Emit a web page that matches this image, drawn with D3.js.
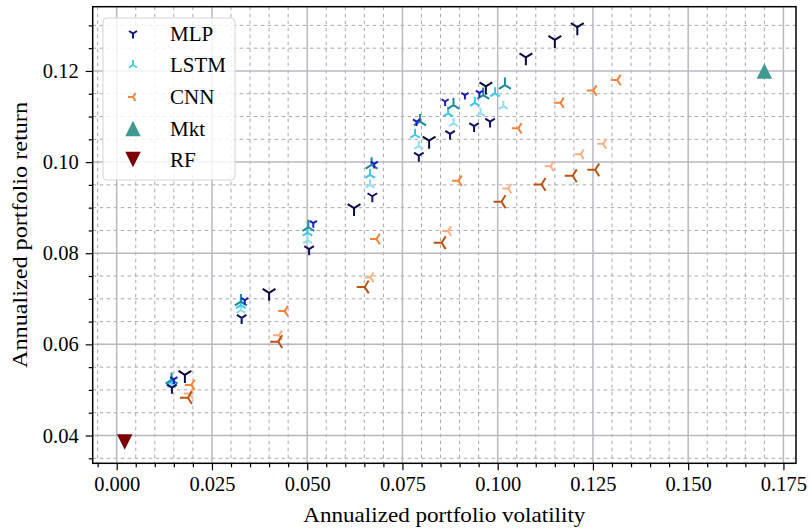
<!DOCTYPE html>
<html>
<head>
<meta charset="utf-8">
<script src="https://cdn.jsdelivr.net/npm/d3@7"></script>
<style>
  html, body { margin: 0; padding: 0; background: #fff; }
  svg { display: block; }
  text { font-family: "Liberation Serif", "DejaVu Serif", serif; fill: #000; }
</style>
</head>
<body>
<svg id="chart" width="810" height="531"></svg>
<script>
// ---------------- data ----------------
const xTicks = [0, 0.025, 0.05, 0.075, 0.1, 0.125, 0.15, 0.175];
const yTicks = [0.04, 0.06, 0.08, 0.10, 0.12];
const xTickLabels = ["0.000", "0.025", "0.050", "0.075", "0.100", "0.125", "0.150", "0.175"];
const yTickLabels = ["0.04", "0.06", "0.08", "0.10", "0.12"];
const legendLabels = ["MLP", "LSTM", "CNN", "Mkt", "RF"];

// [volatility, return]
const mlpDark = [[0.0179,0.0533],[0.0400,0.0713],[0.0623,0.0899],[0.0820,0.1047],[0.0969,0.1166],[0.1074,0.1230],[0.1150,0.1268],[0.1209,0.1296]];
const mlpNavy = [[0.0145,0.0505],[0.0328,0.0658],[0.0505,0.0809],[0.0671,0.0925],[0.0793,0.1014],[0.0875,0.1062],[0.0938,0.1079],[0.0980,0.1089]];
const mlpBlue = [[0.0150,0.0523],[0.0336,0.0697],[0.0516,0.0866],[0.0676,0.0996],[0.0787,0.1089],[0.0862,0.1133],[0.0914,0.1147],[0.0952,0.1152]];

const lstmTeal  = [[0.0144,0.0522],[0.0326,0.0694],[0.0503,0.0857],[0.0669,0.0994],[0.0796,0.1089],[0.0884,0.1125],[0.0962,0.1147],[0.1019,0.1169]];
const lstmCyan  = [[0.0143,0.0517],[0.0326,0.0686],[0.0501,0.0845],[0.0665,0.0972],[0.0783,0.1060],[0.0870,0.1107],[0.0940,0.1130],[0.0993,0.1151]];
const lstmLight = [[0.0144,0.0511],[0.0326,0.0675],[0.0501,0.0828],[0.0665,0.0950],[0.0793,0.1035],[0.0884,0.1085],[0.0955,0.1107],[0.1015,0.1123]];

const cnnOrange = [[0.0196,0.0511],[0.0441,0.0673],[0.0682,0.0831],[0.0897,0.0959],[0.1054,0.1074],[0.1165,0.1130],[0.1251,0.1157],[0.1314,0.1180]];
const cnnLight  = [[0.0192,0.0492],[0.0426,0.0620],[0.0666,0.0747],[0.0870,0.0849],[0.1028,0.0942],[0.1139,0.0991],[0.1218,0.1017],[0.1277,0.1040]];
const cnnDark   = [[0.0187,0.0483],[0.0424,0.0606],[0.0651,0.0726],[0.0853,0.0823],[0.1010,0.0913],[0.1115,0.0951],[0.1197,0.0970],[0.1256,0.0983]];

const mkt = [[0.1700, 0.1200]];
const rf  = [[0.0021, 0.0386]];

// ---------------- layout ----------------
const svg = d3.select("#chart");
const L = 92.7, R = 796, T = 6.7, B = 463.3;
const x = d3.scaleLinear().domain([-0.0063, 0.1783]).range([L, R]);
const y = d3.scaleLinear().domain([0.0339, 0.1341]).range([B, T]);

const xMinor = d3.range(-0.005, 0.1781, 0.005).map(v => +v.toFixed(4));
const yMinor = d3.range(0.035, 0.1341, 0.005).map(v => +v.toFixed(4));
const isMajor = (v, arr) => arr.some(t => Math.abs(t - v) < 1e-6);

// grid
const grid = svg.append("g");
xMinor.filter(v => !isMajor(v, xTicks)).forEach(v => {
  grid.append("line").attr("x1", x(v)).attr("x2", x(v)).attr("y1", T).attr("y2", B)
    .attr("stroke", "#a8a8a8").attr("stroke-width", 1).attr("stroke-dasharray", "3.5,3.5");
});
yMinor.filter(v => !isMajor(v, yTicks)).forEach(v => {
  grid.append("line").attr("y1", y(v)).attr("y2", y(v)).attr("x1", L).attr("x2", R)
    .attr("stroke", "#a8a8a8").attr("stroke-width", 1).attr("stroke-dasharray", "3.5,3.5");
});
xTicks.forEach(v => {
  grid.append("line").attr("x1", x(v)).attr("x2", x(v)).attr("y1", T).attr("y2", B)
    .attr("stroke", "#b8b8c0").attr("stroke-width", 1.5);
});
yTicks.forEach(v => {
  grid.append("line").attr("y1", y(v)).attr("y2", y(v)).attr("x1", L).attr("x2", R)
    .attr("stroke", "#b8b8c0").attr("stroke-width", 1.5);
});

// axes
const xAxis = d3.axisBottom(x).tickValues(xTicks).tickFormat((d, i) => xTickLabels[i]).tickSize(7).tickPadding(6);
const xAxisMinor = d3.axisBottom(x).tickValues(xMinor.filter(v => !isMajor(v, xTicks))).tickFormat("").tickSize(4);
const yAxis = d3.axisLeft(y).tickValues(yTicks).tickFormat((d, i) => yTickLabels[i]).tickSize(7).tickPadding(7);
const yAxisMinor = d3.axisLeft(y).tickValues(yMinor.filter(v => !isMajor(v, yTicks))).tickFormat("").tickSize(4);

function styleAxis(g) {
  g.select(".domain").remove();
  g.selectAll("line").attr("stroke", "#000").attr("stroke-width", 1.2);
  g.selectAll("text").style("font-family", '"Liberation Serif", serif').style("font-size", "20.5px").attr("fill", "#000");
}
svg.append("g").attr("transform", `translate(0,${B})`).call(xAxis).call(styleAxis);
svg.append("g").attr("transform", `translate(0,${B})`).call(xAxisMinor).call(styleAxis);
svg.append("g").attr("transform", `translate(${L},0)`).call(yAxis).call(styleAxis);
svg.append("g").attr("transform", `translate(${L},0)`).call(yAxisMinor).call(styleAxis);

// marker paths
function triPath(kind, m) {
  const r = m / 2;
  let pts;
  if (kind === "down") pts = [[0, r], [0.8 * r, -0.5 * r], [-0.8 * r, -0.5 * r]];
  else if (kind === "up") pts = [[0, -r], [0.8 * r, 0.5 * r], [-0.8 * r, 0.5 * r]];
  else pts = [[-r, 0], [0.5 * r, -0.8 * r], [0.5 * r, 0.8 * r]];
  return pts.map(p => `M0,0L${p[0]},${p[1]}`).join("");
}
function triangle(kind, m) {
  const r = m / 2;
  return kind === "up"
    ? `M0,${-r}L${r},${r}L${-r},${r}Z`
    : `M0,${r}L${r},${-r}L${-r},${-r}Z`;
}

const marks = svg.append("g");
function drawTri(data, kind, color, m, w) {
  marks.selectAll(null).data(data).enter().append("path")
    .attr("transform", d => `translate(${x(d[0])},${y(d[1])})`)
    .attr("d", triPath(kind, m))
    .attr("fill", "none").attr("stroke", color).attr("stroke-width", w)
    .attr("stroke-linecap", "butt");
}

drawTri(lstmLight, "up", "#8fdff2", 11, 2);
drawTri(lstmCyan, "up", "#3ec8ee", 12, 2);
drawTri(lstmTeal, "up", "#1b8a9c", 15, 2);
drawTri(mlpNavy, "down", "#12125e", 12, 2);
drawTri(mlpBlue, "down", "#1c1cc0", 9, 2);
drawTri(mlpDark, "down", "#0b0b3c", 16, 2);
drawTri(cnnLight, "left", "#fcae80", 12, 2);
drawTri(cnnOrange, "left", "#f5823a", 13, 2);
drawTri(cnnDark, "left", "#bd530f", 16, 2);

marks.selectAll(null).data(mkt).enter().append("path")
  .attr("transform", d => `translate(${x(d[0])},${y(d[1])})`)
  .attr("d", triangle("up", 15.5)).attr("fill", "#409a94");
marks.selectAll(null).data(rf).enter().append("path")
  .attr("transform", d => `translate(${x(d[0])},${y(d[1])})`)
  .attr("d", triangle("down", 15.5)).attr("fill", "#7b0000");

// frame
svg.append("rect").attr("x", L).attr("y", T).attr("width", R - L).attr("height", B - T)
  .attr("fill", "none").attr("stroke", "#000").attr("stroke-width", 1.5);

// legend
const lg = svg.append("g");
lg.append("rect").attr("x", 103).attr("y", 18).attr("width", 132).attr("height", 162)
  .attr("rx", 4).attr("fill", "#fff").attr("fill-opacity", 0.82)
  .attr("stroke", "#d4d4d4").attr("stroke-width", 1);
const legendRowsY = [33.5, 65, 97, 128.5, 159.5];
const legendWidths = [45, 56, 48, 37, 28];
const legendMarks = [
  {type: "tri", kind: "down", color: "#12127a", m: 10},
  {type: "tri", kind: "up", color: "#3ed0f2", m: 10},
  {type: "tri", kind: "left", color: "#f5863c", m: 10},
  {type: "triangle", kind: "up", color: "#409a94", m: 15.5},
  {type: "triangle", kind: "down", color: "#7b0000", m: 15.5}
];
legendMarks.forEach((d, i) => {
  const g = lg.append("g").attr("transform", `translate(133,${legendRowsY[i]})`);
  if (d.type === "tri") {
    g.append("path").attr("d", triPath(d.kind, d.m)).attr("fill", "none")
      .attr("stroke", d.color).attr("stroke-width", 2);
  } else {
    g.append("path").attr("d", triangle(d.kind, d.m)).attr("fill", d.color);
  }
  lg.append("text").attr("x", 170).attr("y", legendRowsY[i] + 7)
    .style("font-size", "21px").text(legendLabels[i]);
});

// axis titles
svg.append("text").attr("x", (L + R) / 2).attr("y", 522).attr("text-anchor", "middle")
  .attr("textLength", 282).attr("lengthAdjust", "spacingAndGlyphs")
  .style("font-size", "21px").text("Annualized portfolio volatility");
svg.append("text").attr("transform", `translate(27,${(T + B) / 2}) rotate(-90)`)
  .attr("text-anchor", "middle")
  .attr("textLength", 266).attr("lengthAdjust", "spacingAndGlyphs")
  .style("font-size", "21px").text("Annualized portfolio return");
</script>
</body>
</html>
